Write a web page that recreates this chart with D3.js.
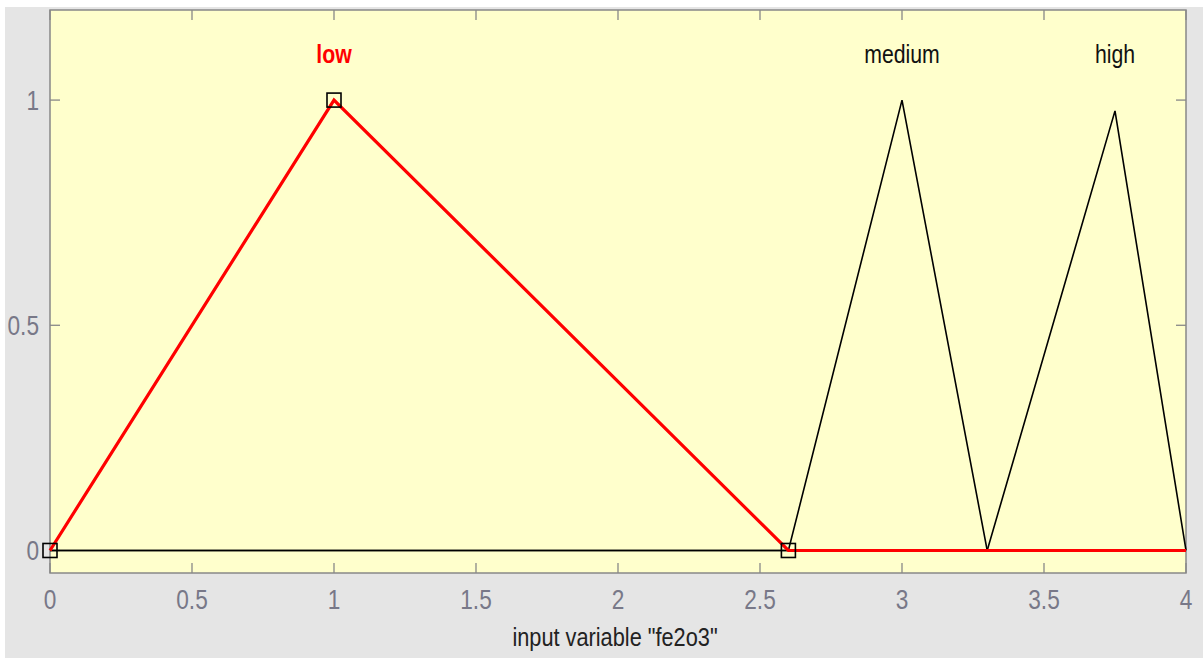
<!DOCTYPE html>
<html><head><meta charset="utf-8">
<script src="https://cdn.jsdelivr.net/npm/d3@7"></script>
<style>
html,body{margin:0;padding:0;background:#fff;}
svg{display:block;}
text{font-family:"Liberation Sans",Arial,sans-serif;}
</style></head>
<body>
<script>
const xTicks = [0, 0.5, 1, 1.5, 2, 2.5, 3, 3.5, 4];
const xTickLabels = ["0", "0.5", "1", "1.5", "2", "2.5", "3", "3.5", "4"];
const yTicks = [0, 0.5, 1];
const yTickLabels = ["0", "0.5", "1"];
const mfNames = ["low", "medium", "high"];
const mfLabelX = [1, 3, 3.75];
const lowX = [0, 1, 2.6, 4];
const lowY = [0, 1, 0, 0];
const mediumX = [0, 2.6, 3, 3.3, 4];
const mediumY = [0, 0, 1, 0, 0];
const highX = [0, 3.3, 3.75, 4];
const highY = [0, 0, 0.976, 0];
const markerX = [0, 1, 2.6];
const markerY = [0, 1, 0];
const axisTitle = 'input variable "fe2o3"';

const W = 1203, H = 658;
const svg = d3.select("body").append("svg").attr("width", W).attr("height", H);
svg.append("rect").attr("x", 5).attr("y", 7).attr("width", W - 5).attr("height", H - 7).attr("fill", "#e5e5e5");

const L = 50, R = 1186, T = 10, B = 573;
const x = d3.scaleLinear().domain([0, 4]).range([L, R]);
const y = d3.scaleLinear().domain([-0.05, 1.2]).range([B, T]);

svg.append("rect").attr("x", L).attr("y", T).attr("width", R - L).attr("height", B - T)
  .attr("fill", "#ffffcc");

const tickCol = "#888";
const g = svg.append("g");
xTicks.forEach(t => {
  g.append("line").attr("x1", x(t)).attr("x2", x(t)).attr("y1", B).attr("y2", B - 10).attr("stroke", tickCol).attr("stroke-width", 1.3);
  g.append("line").attr("x1", x(t)).attr("x2", x(t)).attr("y1", T).attr("y2", T + 10).attr("stroke", tickCol).attr("stroke-width", 1.3);
});
yTicks.forEach(t => {
  g.append("line").attr("x1", L).attr("x2", L + 10).attr("y1", y(t)).attr("y2", y(t)).attr("stroke", tickCol).attr("stroke-width", 1.3);
  g.append("line").attr("x1", R).attr("x2", R - 10).attr("y1", y(t)).attr("y2", y(t)).attr("stroke", tickCol).attr("stroke-width", 1.3);
});
g.append("rect").attr("x", L).attr("y", T).attr("width", R - L).attr("height", B - T)
  .attr("fill", "none").attr("stroke", tickCol).attr("stroke-width", 1.5);

function sText(sel, px, py, sx) {
  return sel.attr("transform", `translate(${px},${py}) scale(${sx},1)`);
}

const labCol = "#787888";
xTicks.forEach((t, i) => {
  sText(g.append("text"), x(t), 609, 0.84).attr("text-anchor", "middle")
    .attr("font-size", 27).attr("fill", labCol).text(xTickLabels[i]);
});
yTicks.forEach((t, i) => {
  sText(g.append("text"), 39, y(t) + 10, 0.84).attr("text-anchor", "end")
    .attr("font-size", 27).attr("fill", labCol).text(yTickLabels[i]);
});
sText(svg.append("text"), (512 + 718) / 2, 646, 0.87).attr("text-anchor", "middle")
  .attr("font-size", 25).attr("fill", "#222").text(axisTitle);

const line = d3.line().x(d => x(d[0])).y(d => y(d[1]));
const pts = (xs, ys) => xs.map((v, i) => [v, ys[i]]);
svg.append("path").attr("d", line(pts(mediumX, mediumY))).attr("fill", "none").attr("stroke", "#000").attr("stroke-width", 1.6);
svg.append("path").attr("d", line(pts(highX, highY))).attr("fill", "none").attr("stroke", "#000").attr("stroke-width", 1.6);
svg.append("path").attr("d", line(pts(lowX, lowY))).attr("fill", "none").attr("stroke", "#ff0000").attr("stroke-width", 3.2);

svg.selectAll(".mk").data(markerX).enter().append("rect")
  .attr("x", d => x(d) - 7).attr("y", (d, i) => y(markerY[i]) - 7)
  .attr("width", 14).attr("height", 14).attr("fill", "none").attr("stroke", "#000").attr("stroke-width", 1.6);

const labColors = ["#ff0000", "#111", "#111"];
const labWeights = ["bold", "normal", "normal"];
mfNames.forEach((n, i) => {
  sText(svg.append("text"), x(mfLabelX[i]), 63, 0.85).attr("text-anchor", "middle")
    .attr("font-size", 25).attr("font-weight", labWeights[i]).attr("fill", labColors[i]).text(n);
});
</script>
</body></html>
